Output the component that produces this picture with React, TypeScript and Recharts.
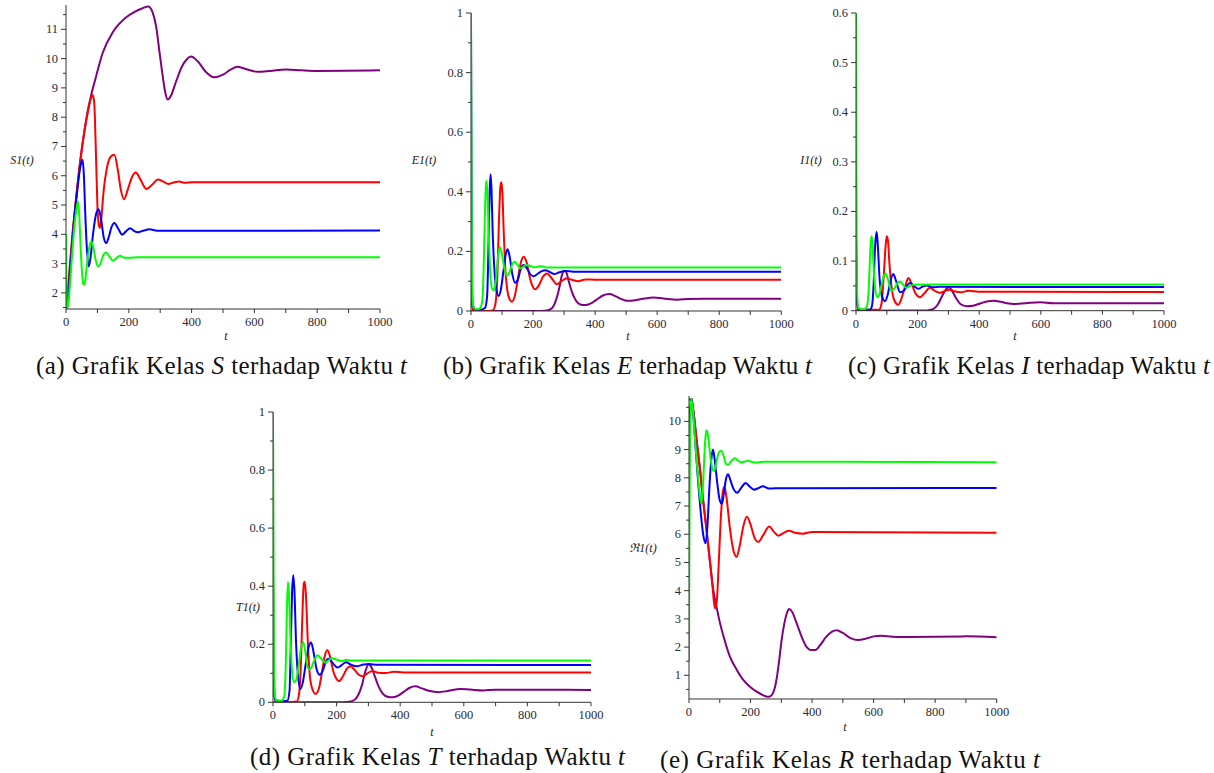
import React from 'react'
import { LineChart, Line, XAxis, YAxis } from 'recharts'

type Pt = [number, number]

// (a) S1(t)
const S_PURPLE: Pt[] = [[0,1.5],[5,2.0],[12,2.9],[21,4.05],[32,5.2],[42,6.2],[53,7.1],[64,7.9],[80,8.75],[96,9.4],[117,10.2],[149,10.9],[191,11.4],[220,11.6],[244,11.72],[262,11.78],[275,11.6],[287,11.1],[298,10.2],[308,9.4],[316,8.85],[324,8.6],[335,8.75],[350,9.2],[370,9.75],[385,9.98],[398,10.07],[420,9.9],[445,9.55],[472,9.36],[500,9.45],[525,9.63],[546,9.72],[580,9.62],[610,9.55],[650,9.58],[700,9.63],[750,9.6],[800,9.58],[1000,9.6]]
const S_RED: Pt[] = [[0,1.7],[5,1.5],[12,2.6],[20,3.8],[30,5.0],[40,6.0],[50,6.9],[60,7.6],[70,8.2],[78,8.6],[84,8.76],[89,8.6],[92,8.0],[96,6.5],[100,5.0],[104,4.35],[108,4.22],[112,4.5],[120,5.5],[130,6.25],[142,6.65],[154,6.72],[165,6.2],[175,5.5],[185,5.2],[196,5.5],[210,5.95],[222,6.11],[238,5.85],[256,5.55],[275,5.7],[293,5.87],[310,5.8],[326,5.72],[343,5.77],[360,5.8],[380,5.76],[400,5.78],[1000,5.78]]
const S_BLUE: Pt[] = [[0,1.8],[4,1.5],[10,2.2],[18,3.4],[27,4.6],[36,5.5],[44,6.2],[50,6.5],[53,6.55],[57,6.0],[61,4.8],[66,3.6],[72,2.9],[78,3.2],[86,4.0],[96,4.7],[104,4.86],[112,4.5],[120,3.9],[128,3.7],[136,3.9],[145,4.25],[154,4.39],[166,4.2],[179,3.99],[191,4.1],[204,4.21],[216,4.12],[229,4.07],[246,4.12],[266,4.17],[290,4.12],[1000,4.13]]
const S_GREEN: Pt[] = [[0,4.0],[2,1.6],[6,1.5],[12,2.2],[20,3.4],[28,4.4],[34,4.9],[38,5.12],[42,4.7],[46,3.7],[51,2.7],[55,2.32],[58,2.28],[62,2.5],[68,3.1],[74,3.55],[80,3.76],[86,3.6],[94,3.15],[102,2.9],[110,3.0],[119,3.3],[128,3.38],[138,3.25],[149,3.1],[160,3.18],[172,3.27],[186,3.2],[200,3.2],[230,3.22],[1000,3.22]]

// (b) E1(t)
const E_PURPLE: Pt[] = [[0,0],[200,0],[240,0.001],[255,0.005],[265,0.015],[275,0.04],[285,0.08],[293,0.12],[300,0.135],[307,0.13],[315,0.1],[325,0.065],[338,0.035],[352,0.022],[368,0.02],[385,0.025],[405,0.038],[425,0.052],[446,0.057],[465,0.05],[485,0.04],[502,0.034],[530,0.036],[560,0.042],[589,0.045],[620,0.042],[665,0.038],[700,0.04],[750,0.041],[1000,0.041]]
const E_RED: Pt[] = [[0,0.14],[1,0.1],[3,0.02],[8,0.003],[40,0.0],[70,0.002],[78,0.02],[85,0.12],[90,0.3],[95,0.42],[98,0.432],[101,0.4],[105,0.28],[110,0.15],[117,0.07],[124,0.04],[132,0.031],[141,0.05],[150,0.1],[160,0.16],[170,0.182],[180,0.16],[190,0.11],[200,0.08],[207,0.073],[218,0.085],[232,0.115],[245,0.126],[260,0.11],[277,0.09],[292,0.1],[309,0.11],[325,0.105],[345,0.1],[370,0.106],[400,0.105],[1000,0.105]]
const E_BLUE: Pt[] = [[0,0.97],[1.5,0.5],[3,0.1],[6,0.02],[15,0.005],[30,0.004],[45,0.01],[52,0.05],[56,0.2],[60,0.4],[63,0.459],[66,0.41],[70,0.26],[76,0.13],[82,0.07],[89,0.05],[96,0.07],[104,0.13],[112,0.19],[118,0.207],[125,0.18],[133,0.125],[142,0.095],[151,0.105],[160,0.14],[170,0.154],[182,0.14],[192,0.122],[202,0.117],[215,0.125],[228,0.134],[240,0.137],[255,0.13],[268,0.124],[285,0.13],[304,0.134],[330,0.132],[1000,0.132]]
const E_GREEN: Pt[] = [[0,1.0],[1.5,0.6],[3,0.15],[5,0.03],[10,0.01],[20,0.005],[30,0.01],[37,0.04],[41,0.15],[45,0.33],[48,0.42],[50,0.437],[53,0.39],[57,0.26],[62,0.13],[68,0.075],[74,0.07],[80,0.1],[86,0.17],[93,0.215],[100,0.19],[108,0.14],[116,0.118],[124,0.13],[132,0.155],[140,0.165],[150,0.155],[159,0.143],[168,0.148],[180,0.154],[193,0.15],[206,0.147],[218,0.149],[228,0.15],[245,0.146],[1000,0.146]]

// (c) I1(t)
const I_PURPLE: Pt[] = [[0,0],[230,0.0005],[250,0.003],[265,0.012],[280,0.03],[292,0.043],[302,0.047],[312,0.04],[325,0.025],[340,0.013],[359,0.009],[380,0.01],[405,0.015],[430,0.019],[446,0.02],[470,0.018],[490,0.015],[511,0.0135],[550,0.015],[598,0.017],[640,0.015],[700,0.015],[1000,0.0148]]
const I_RED: Pt[] = [[0,0.145],[1,0.1],[3,0.02],[8,0.002],[75,0.002],[83,0.015],[90,0.07],[96,0.13],[100,0.15],[104,0.14],[108,0.1],[115,0.05],[125,0.02],[137,0.012],[148,0.025],[160,0.05],[170,0.066],[180,0.055],[193,0.035],[208,0.027],[222,0.035],[240,0.046],[256,0.04],[273,0.036],[290,0.04],[305,0.042],[320,0.039],[340,0.037],[365,0.04],[385,0.039],[400,0.038],[1000,0.0377]]
const I_BLUE: Pt[] = [[0,0.145],[1,0.1],[3,0.02],[8,0.002],[45,0.002],[52,0.01],[57,0.05],[62,0.13],[67,0.159],[71,0.13],[76,0.07],[84,0.03],[94,0.019],[102,0.03],[112,0.06],[121,0.074],[130,0.06],[143,0.037],[155,0.04],[165,0.05],[175,0.056],[188,0.05],[202,0.044],[215,0.048],[229,0.051],[250,0.047],[270,0.048],[1000,0.0477]]
const I_GREEN: Pt[] = [[0,0.6],[1,0.35],[2.5,0.1],[4,0.03],[8,0.005],[25,0.002],[35,0.008],[41,0.04],[45,0.1],[48,0.14],[51,0.15],[54,0.13],[58,0.08],[63,0.04],[70,0.027],[77,0.035],[84,0.055],[90,0.07],[96,0.075],[103,0.065],[110,0.048],[116,0.04],[125,0.045],[134,0.055],[143,0.059],[153,0.052],[164,0.046],[175,0.05],[186,0.052],[200,0.053],[220,0.053],[1000,0.053]]

// (d) T1(t)
const T_PURPLE: Pt[] = [[0,0],[200,0],[240,0.002],[256,0.008],[268,0.025],[280,0.06],[290,0.105],[301,0.131],[310,0.12],[320,0.09],[332,0.055],[345,0.03],[360,0.019],[375,0.017],[392,0.022],[410,0.035],[430,0.05],[448,0.055],[468,0.048],[490,0.04],[520,0.035],[550,0.039],[589,0.046],[620,0.044],[660,0.041],[700,0.043],[1000,0.0427]]
const T_RED: Pt[] = [[0,0.46],[1,0.3],[3,0.06],[6,0.01],[40,0.001],[75,0.003],[82,0.03],[88,0.14],[93,0.32],[97,0.41],[100,0.415],[104,0.36],[109,0.22],[116,0.09],[124,0.045],[134,0.029],[145,0.05],[155,0.11],[163,0.16],[171,0.18],[180,0.155],[190,0.105],[200,0.08],[208,0.073],[220,0.09],[232,0.115],[243,0.124],[258,0.11],[270,0.095],[282,0.09],[297,0.1],[313,0.108],[330,0.102],[355,0.101],[380,0.105],[410,0.103],[1000,0.103]]
const T_BLUE: Pt[] = [[0,0.46],[1,0.3],[3,0.06],[6,0.01],[20,0.003],[45,0.005],[52,0.04],[56,0.2],[60,0.38],[64,0.438],[68,0.37],[72,0.22],[78,0.1],[86,0.046],[94,0.07],[104,0.14],[112,0.19],[120,0.206],[128,0.17],[137,0.115],[147,0.095],[157,0.11],[166,0.14],[175,0.15],[188,0.135],[203,0.12],[216,0.128],[229,0.138],[245,0.13],[262,0.124],[285,0.13],[300,0.132],[330,0.129],[1000,0.1285]]
const T_GREEN: Pt[] = [[0,1.0],[1.5,0.6],[3,0.15],[5,0.03],[10,0.008],[25,0.005],[35,0.02],[40,0.12],[44,0.33],[47,0.414],[50,0.38],[54,0.25],[59,0.12],[65,0.07],[72,0.075],[80,0.12],[87,0.18],[95,0.208],[102,0.17],[110,0.116],[118,0.115],[128,0.14],[140,0.162],[152,0.15],[165,0.137],[175,0.145],[185,0.152],[200,0.147],[215,0.142],[230,0.146],[250,0.144],[1000,0.144]]

// (e) R1(t)
const R_PURPLE: Pt[] = [[0,10.8],[8,10.7],[14,10.4],[25,9.3],[36,8.27],[47,7.1],[57,6.15],[68,5.05],[79,4.02],[90,3.4],[101,2.84],[117,2.2],[133,1.66],[155,1.2],[177,0.83],[200,0.58],[220,0.42],[240,0.3],[255,0.24],[263,0.25],[272,0.35],[280,0.6],[288,1.1],[295,1.7],[301,2.25],[310,2.85],[318,3.2],[325,3.35],[335,3.25],[350,2.84],[365,2.4],[382,2.01],[395,1.9],[410,1.9],[425,2.05],[445,2.35],[465,2.55],[480,2.6],[500,2.5],[525,2.32],[550,2.25],[575,2.3],[600,2.38],[625,2.4],[660,2.37],[700,2.36],[800,2.37],[900,2.38],[1000,2.35]]
const R_RED: Pt[] = [[0,8.0],[4,10.3],[9,10.8],[14,10.4],[25,9.3],[36,8.27],[47,7.1],[57,6.15],[68,5.05],[76,4.2],[84,3.37],[90,3.6],[96,4.8],[103,6.5],[110,7.5],[115,7.68],[122,7.3],[132,6.3],[145,5.4],[155,5.2],[165,5.6],[177,6.3],[188,6.62],[200,6.35],[212,5.9],[225,5.73],[240,5.95],[261,6.27],[275,6.1],[290,5.95],[308,6.05],[325,6.12],[345,6.05],[370,6.02],[400,6.08],[1000,6.05]]
const R_BLUE: Pt[] = [[0,8.2],[3,10.2],[8,10.8],[14,10.2],[22,9.0],[30,7.8],[38,6.8],[46,6.0],[54,5.68],[60,6.3],[66,7.6],[72,8.6],[78,9.0],[84,8.6],[92,7.8],[100,7.2],[107,7.08],[114,7.5],[120,7.95],[127,8.13],[135,7.9],[145,7.6],[157,7.47],[170,7.65],[184,7.82],[198,7.68],[211,7.58],[225,7.63],[240,7.7],[260,7.62],[280,7.63],[1000,7.64]]
const R_GREEN: Pt[] = [[0,1.5],[1,5],[3,9.2],[6,10.8],[12,10.5],[20,9.3],[28,8.2],[34,7.5],[40,7.09],[45,7.6],[50,8.8],[54,9.5],[58,9.69],[63,9.4],[70,8.7],[77,8.3],[83,8.25],[90,8.6],[97,8.9],[105,8.96],[113,8.75],[120,8.5],[127,8.46],[138,8.6],[149,8.69],[160,8.6],[170,8.55],[182,8.58],[192,8.61],[205,8.56],[220,8.54],[240,8.57],[1000,8.55]]

// ticks
const X_TICKS = [0, 100, 200, 300, 400, 500, 600, 700, 800, 900, 1000]
const X_LABELS = [0, 200, 400, 600, 800, 1000]
const S_TICKS = [1.5, 2, 2.5, 3, 3.5, 4, 4.5, 5, 5.5, 6, 6.5, 7, 7.5, 8, 8.5, 9, 9.5, 10, 10.5, 11, 11.5]
const S_LABELS = [2, 3, 4, 5, 6, 7, 8, 9, 10, 11]
const E_TICKS = [0, 0.1, 0.2, 0.3, 0.4, 0.5, 0.6, 0.7, 0.8, 0.9, 1]
const E_LABELS = [0, 0.2, 0.4, 0.6, 0.8, 1]
const I_TICKS = [0, 0.05, 0.1, 0.15, 0.2, 0.25, 0.3, 0.35, 0.4, 0.45, 0.5, 0.55, 0.6]
const I_LABELS = [0, 0.1, 0.2, 0.3, 0.4, 0.5, 0.6]
const R_TICKS = [0.5, 1, 1.5, 2, 2.5, 3, 3.5, 4, 4.5, 5, 5.5, 6, 6.5, 7, 7.5, 8, 8.5, 9, 9.5, 10, 10.5]
const R_LABELS = [1, 2, 3, 4, 5, 6, 7, 8, 9, 10]

const PURPLE = '#800080'
const RED = '#ff0000'
const BLUE = '#0000ff'
const GREEN = '#00ff00'
const AXIS = '#333'
const SERIF = "'Liberation Serif', 'Times New Roman', serif"
const tickStyle = { fontFamily: SERIF, fontSize: 12.5, fill: '#2a2a3a' }

const toRows = (pts: Pt[]) => pts.map(([t, v]) => ({ t, v }))

function XTick({ x, y, payload }: any) {
  const labeled = X_LABELS.includes(payload.value)
  return (
    <g>
      <line x1={x} x2={x} y1={y} y2={y + 4} stroke={AXIS} />
      {labeled && (
        <text x={x} y={y + 17} textAnchor="middle" style={tickStyle}>
          {payload.value}
        </text>
      )}
    </g>
  )
}

function YTick({ x, y, payload, labels }: any) {
  const labeled = labels.includes(payload.value)
  return (
    <g>
      <line x1={x - (labeled ? 5 : 3)} x2={x} y1={y} y2={y} stroke={AXIS} />
      {labeled && (
        <text x={x - 8} y={y + 4} textAnchor="end" style={tickStyle}>
          {payload.value}
        </text>
      )}
    </g>
  )
}

interface PanelProps {
  x: number
  y: number
  w: number
  h: number
  domain: [number, number]
  ticks: number[]
  labels: number[]
  series: [Pt[], string][]
}

function Panel({ x, y, w, h, domain, ticks, labels, series }: PanelProps) {
  const yw = 40
  const top = 12
  const right = 20
  return (
    <div style={{ position: 'absolute', left: x - yw, top: y - top }}>
      <LineChart width={w + yw + right} height={h + top + 28} margin={{ top, right, bottom: 0, left: 0 }}>
        <XAxis
          type="number"
          dataKey="t"
          domain={[0, 1000]}
          ticks={X_TICKS}
          interval={0}
          tickSize={0}
          tickMargin={0}
          height={28}
          axisLine={{ stroke: AXIS }}
          tick={(p: any) => <XTick {...p} />}
          allowDataOverflow
        />
        <YAxis
          type="number"
          domain={domain}
          ticks={ticks}
          interval={0}
          tickSize={0}
          tickMargin={0}
          width={yw}
          axisLine={{ stroke: AXIS }}
          tick={(p: any) => <YTick {...p} labels={labels} />}
          allowDataOverflow
        />
        {series.map(([pts, color], i) => (
          <Line
            key={i}
            data={toRows(pts)}
            dataKey="v"
            type="monotone"
            stroke={color}
            strokeWidth={2}
            dot={false}
            isAnimationActive={false}
          />
        ))}
      </LineChart>
    </div>
  )
}

function Caption({ x, y, len, tag, cls }: { x: number; y: number; len: number; tag: string; cls: string }) {
  return (
    <text x={x} y={y} textLength={len} lengthAdjust="spacing" style={{ fontFamily: SERIF, fontSize: 25, fill: '#111' }}>
      ({tag}) Grafik Kelas <tspan fontStyle="italic">{cls}</tspan> terhadap Waktu <tspan fontStyle="italic">t</tspan>
    </text>
  )
}

function AxisName({ x, y, children }: { x: number; y: number; children: React.ReactNode }) {
  return (
    <text x={x} y={y} textAnchor="middle" style={{ fontFamily: SERIF, fontSize: 12, fontStyle: 'italic', fill: '#222' }}>
      {children}
    </text>
  )
}

export default function App() {
  return (
    <div style={{ position: 'absolute', left: 0, top: 0, width: 1214, height: 773, background: '#fff' }}>
      <Panel x={66} y={5} w={314} h={304} domain={[1.45, 11.83]} ticks={S_TICKS} labels={S_LABELS}
        series={[[S_PURPLE, PURPLE], [S_RED, RED], [S_BLUE, BLUE], [S_GREEN, GREEN]]} />
      <Panel x={470.7} y={13} w={310.3} h={298} domain={[0, 1]} ticks={E_TICKS} labels={E_LABELS}
        series={[[E_PURPLE, PURPLE], [E_RED, RED], [E_BLUE, BLUE], [E_GREEN, GREEN]]} />
      <Panel x={856} y={13.3} w={308} h={297.7} domain={[0, 0.6]} ticks={I_TICKS} labels={I_LABELS}
        series={[[I_PURPLE, PURPLE], [I_RED, RED], [I_BLUE, BLUE], [I_GREEN, GREEN]]} />
      <Panel x={273} y={412.4} w={318} h={290.3} domain={[0, 1]} ticks={E_TICKS} labels={E_LABELS}
        series={[[T_PURPLE, PURPLE], [T_RED, RED], [T_BLUE, BLUE], [T_GREEN, GREEN]]} />
      <Panel x={689} y={396} w={307.7} h={303} domain={[0.16, 10.9]} ticks={R_TICKS} labels={R_LABELS}
        series={[[R_PURPLE, PURPLE], [R_RED, RED], [R_BLUE, BLUE], [R_GREEN, GREEN]]} />
      <svg width={1214} height={773} style={{ position: 'absolute', left: 0, top: 0, pointerEvents: 'none' }}>
        <AxisName x={22} y={164}>S1(t)</AxisName>
        <AxisName x={424} y={164}>E1(t)</AxisName>
        <AxisName x={811} y={164}>I1(t)</AxisName>
        <AxisName x={248} y={611}>T1(t)</AxisName>
        <AxisName x={643} y={552}>ℜ1(t)</AxisName>
        <AxisName x={226} y={340}>t</AxisName>
        <AxisName x={628} y={340}>t</AxisName>
        <AxisName x={1015} y={340}>t</AxisName>
        <AxisName x={432} y={736}>t</AxisName>
        <AxisName x={845} y={731}>t</AxisName>
        <Caption x={36} y={374} len={371} tag="a" cls="S" />
        <Caption x={443} y={374} len={369} tag="b" cls="E" />
        <Caption x={848} y={374} len={362} tag="c" cls="I" />
        <Caption x={250} y={765} len={375} tag="d" cls="T" />
        <Caption x={660} y={768} len={380} tag="e" cls="R" />
      </svg>
    </div>
  )
}
